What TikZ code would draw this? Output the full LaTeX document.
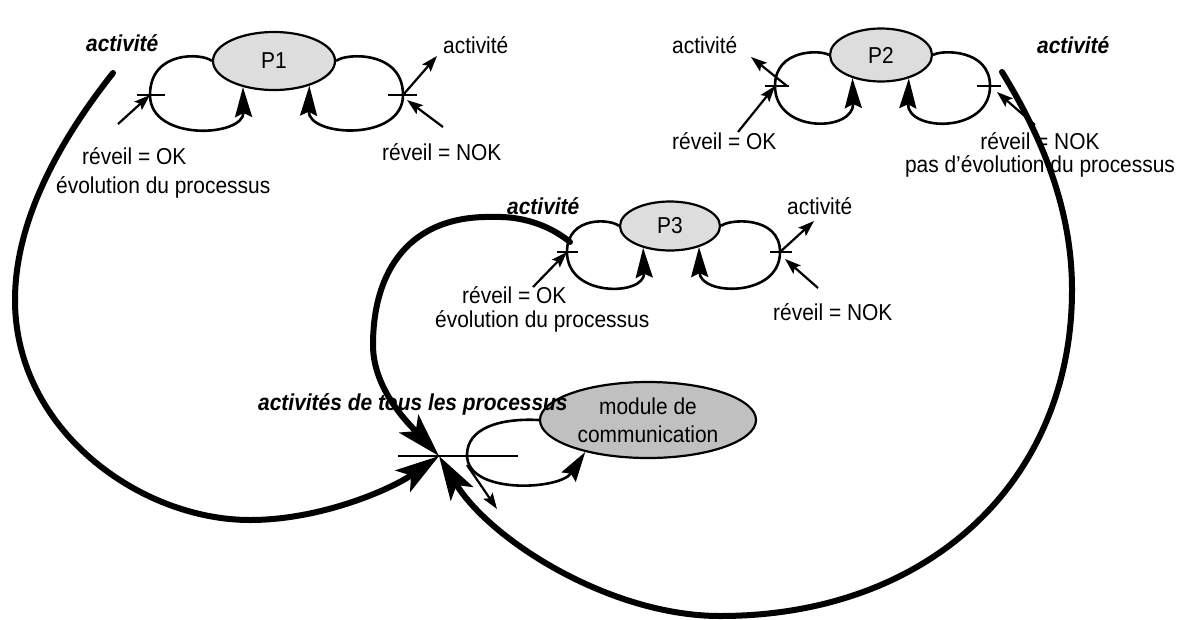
\documentclass[tikz,border=0pt]{standalone}
\usepackage{fontspec}
\setmainfont{Liberation Sans}[FakeStretch=0.91]
\usetikzlibrary{shapes.geometric,arrows.meta}
\definecolor{procfill}{RGB}{221,221,221}
\definecolor{modfill}{RGB}{192,192,192}
\begin{document}
\begin{tikzpicture}[x=1pt,y=-1pt,
  every node/.style={font=\fontsize{23pt}{26pt}\selectfont},
  proc/.style={ellipse,draw,line width=2.2pt,fill=procfill,inner sep=0pt},
  loopline/.style={line width=2.6pt,-{Stealth[length=30pt,width=17pt,inset=4pt]}},
  flowline/.style={line width=6pt,line cap=round,-{Stealth[length=44pt,width=26pt,inset=10pt]}},
  tickmark/.style={line width=2.6pt},
  sigarrow/.style={line width=2.2pt,-{Stealth[length=16pt,width=11pt,inset=3pt]}},
  lab/.style={anchor=base west,inner sep=0pt},
  clab/.style={anchor=base,inner sep=0pt},
  act/.style={lab,font=\fontsize{23pt}{26pt}\selectfont\bfseries\itshape},
]
\useasboundingbox (0,0) rectangle (1191,619);

% processes and communication module
\node[proc,minimum width=122pt,minimum height=58pt] (P1) at (274,61) {P1};
\node[proc,minimum width=102pt,minimum height=53pt] (P2) at (881,55) {P2};
\node[proc,minimum width=100pt,minimum height=49pt] (P3) at (670,226) {P3};
\node[proc,fill=modfill,minimum width=216pt,minimum height=76pt,align=center,
      font=\fontsize{23pt}{28pt}\selectfont] (mod) at (648,420) {module de\\communication};

% wake-up points on the loops
\coordinate (t1L) at (150,95);  \coordinate (t1R) at (403,95);
\coordinate (t2L) at (775,86);  \coordinate (t2R) at (990,86);
\coordinate (t3L) at (567,252); \coordinate (t3R) at (780,252);
\coordinate (mL)  at (467,455);
\coordinate (hub) at (439,456);

% free ends of the small signal arrows
\coordinate (w1L) at (118,124); \coordinate (a1R) at (437,56);  \coordinate (w1R) at (443,127);
\coordinate (a2L) at (751,57);  \coordinate (w2L) at (738,132); \coordinate (w2R) at (1035,125);
\coordinate (w3L) at (533,287); \coordinate (a3R) at (814,221); \coordinate (w3R) at (818,288);
\coordinate (mOut) at (497,509);

% starts of the activity flows
\coordinate (f1) at (113,73);
\coordinate (f2) at (570,242);
\coordinate (f3) at (1002,72);

% process loops
\draw[loopline] (P1.west) .. controls (203,53) and (150,50) .. (t1L)
  .. controls (150,142) and (244,137) .. (P1.220);
\draw[loopline] (P1.east) .. controls (345,53) and (403,50) .. (t1R)
  .. controls (403,142) and (308,137) .. (P1.-35);
\draw[loopline] (P2.west) .. controls (822,50) and (775,48) .. (t2L)
  .. controls (775,134) and (854,132) .. (P2.219);
\draw[loopline] (P2.east) .. controls (940,50) and (990,48) .. (t2R)
  .. controls (990,134) and (907,132) .. (P2.-40);
\draw[loopline] (P3.west) .. controls (612,219) and (567,215) .. (t3L)
  .. controls (567,298) and (645,296) .. (P3.219);
\draw[loopline] (P3.east) .. controls (728,219) and (780,215) .. (t3R)
  .. controls (780,298) and (700,296) .. (P3.-36);
\draw[loopline] (mod.west) .. controls (500,418) and (467,428) .. (mL)
  .. controls (467,495) and (560,490) .. (mod.207);

% ticks
\draw[tickmark] ([xshift=-13pt]t1L) -- ([xshift=15pt]t1L);
\draw[tickmark] ([xshift=-15pt]t1R) -- ([xshift=14pt]t1R);
\draw[tickmark] ([xshift=-10pt]t2L) -- ([xshift=14pt]t2L);
\draw[tickmark] ([xshift=-13pt]t2R) -- ([xshift=11pt]t2R);
\draw[tickmark] ([xshift=-10pt]t3L) -- ([xshift=11pt]t3L);
\draw[tickmark] ([xshift=-10pt]t3R) -- ([xshift=12pt]t3R);
\draw[tickmark] ([xshift=-41pt]hub) -- ([xshift=79pt]hub);

% signal arrows
\draw[sigarrow] (w1L) -- (t1L);
\draw[sigarrow] (t1R) -- (a1R);
\draw[sigarrow] (w1R) -- ([shift={(4,5)}]t1R);
\draw[sigarrow] ([xshift=12pt]t2L) -- (a2L);
\draw[sigarrow] (w2L) -- (t2L);
\draw[sigarrow] (w2R) -- ([shift={(7,6)}]t2R);
\draw[sigarrow] (w3L) -- (t3L);
\draw[sigarrow] (t3R) -- (a3R);
\draw[sigarrow] (w3R) -- ([shift={(5,7)}]t3R);
\draw[sigarrow] ([shift={(0,10)}]mL) -- (mOut);

% activity flows towards the communication point
\draw[flowline] (f1) .. controls (60,140) and (15,220) .. (15,300)
  .. controls (15,430) and (140,520) .. (250,520)
  .. controls (320,520) and (390,490) .. (hub);
\draw[flowline] (f2) .. controls (548,224) and (520,216) .. (493,217)
  .. controls (410,215) and (373,270) .. (373,345)
  .. controls (373,390) and (410,425) .. (hub);
\draw[flowline] (f3) .. controls (1050,150) and (1072,220) .. (1072,290)
  .. controls (1072,480) and (930,616) .. (720,616)
  .. controls (610,616) and (490,540) .. (hub);

% labels of P1
\node[act] (l1a) at (86,51) {activité};
\node[lab] (l1b) at (443,53) {activité};
\node[lab] (l1c) at (82,164) {réveil = OK};
\node[lab] (l1d) at (56,193) {évolution du processus};
\node[lab] (l1e) at (382,160) {réveil = NOK};

% labels of P2
\node[lab] (l2a) at (672,53) {activité};
\node[act] (l2b) at (1037,53) {activité};
\node[lab] (l2c) at (672,149) {réveil = OK};
\node[clab] (l2d) at (1040,149) {réveil = NOK};
\node[clab] (l2e) at (1040,172) {pas d’évolution du processus};

% labels of P3
\node[act] (l3a) at (507,214) {activité};
\node[lab] (l3b) at (787,214) {activité};
\node[lab] (l3c) at (462,303) {réveil = OK};
\node[lab] (l3d) at (435,327) {évolution du processus};
\node[lab] (l3e) at (773,320) {réveil = NOK};

% label of the gathering point
\node[act] (lall) at (258,410) {activités de tous les processus};
\end{tikzpicture}
\end{document}
